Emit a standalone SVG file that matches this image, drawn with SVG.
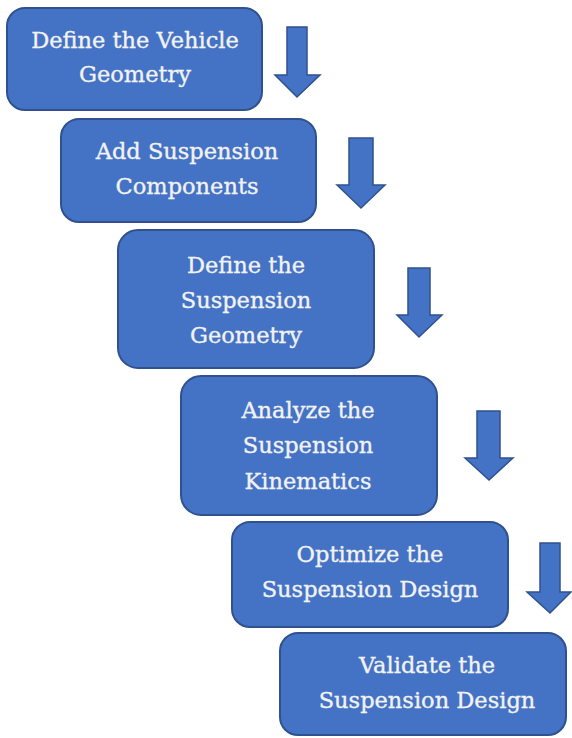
<svg xmlns="http://www.w3.org/2000/svg" width="572" height="738" viewBox="0 0 572 738">
<style>
.box{fill:#4472C4;stroke:#2F528F;stroke-width:2}
.arr{fill:#4472C4;stroke:#2F528F;stroke-width:1.5}
.t{font-family:"DejaVu Serif","Liberation Serif",serif;font-size:22.5px;fill:#F2F2F2;stroke:#F2F2F2;stroke-width:0.35;text-anchor:middle}
</style>
<rect width="572" height="738" fill="#fff"/>
<g id="connectors">
<path class="arr" d="M287 27H307V75H320L297 97L275 75H287Z"/>
<path class="arr" d="M349 138H373V185H385L361 208L337 185H349Z"/>
<path class="arr" d="M408 268H430V315H442L419 337L397 315H408Z"/>
<path class="arr" d="M477 411H500V458H513L489 480L465 458H477Z"/>
<path class="arr" d="M540 543H560V592H571L550 613L527 592H540Z"/>
</g>
<g id="n1"><rect class="box" x="7" y="8" width="255" height="102" rx="18"/>
<text class="t" x="135" y="48">Define the Vehicle</text><text class="t" x="135" y="82">Geometry</text></g>
<g id="n2"><rect class="box" x="61" y="119" width="255" height="103" rx="18"/>
<text class="t" x="187" y="159">Add Suspension</text><text class="t" x="187" y="194">Components</text></g>
<g id="n3"><rect class="box" x="118" y="230" width="256" height="138" rx="20"/>
<text class="t" x="246" y="273">Define the</text><text class="t" x="246" y="308">Suspension</text><text class="t" x="246" y="343">Geometry</text></g>
<g id="n4"><rect class="box" x="181" y="376" width="256" height="139" rx="20"/>
<text class="t" x="308" y="418">Analyze the</text><text class="t" x="308" y="453">Suspension</text><text class="t" x="308" y="489">Kinematics</text></g>
<g id="n5"><rect class="box" x="232" y="522" width="276" height="105" rx="18"/>
<text class="t" x="370" y="562">Optimize the</text><text class="t" x="370" y="597">Suspension Design</text></g>
<g id="n6"><rect class="box" x="280" y="633" width="286" height="102" rx="18"/>
<text class="t" x="427" y="673">Validate the</text><text class="t" x="427" y="708">Suspension Design</text></g>
</svg>
